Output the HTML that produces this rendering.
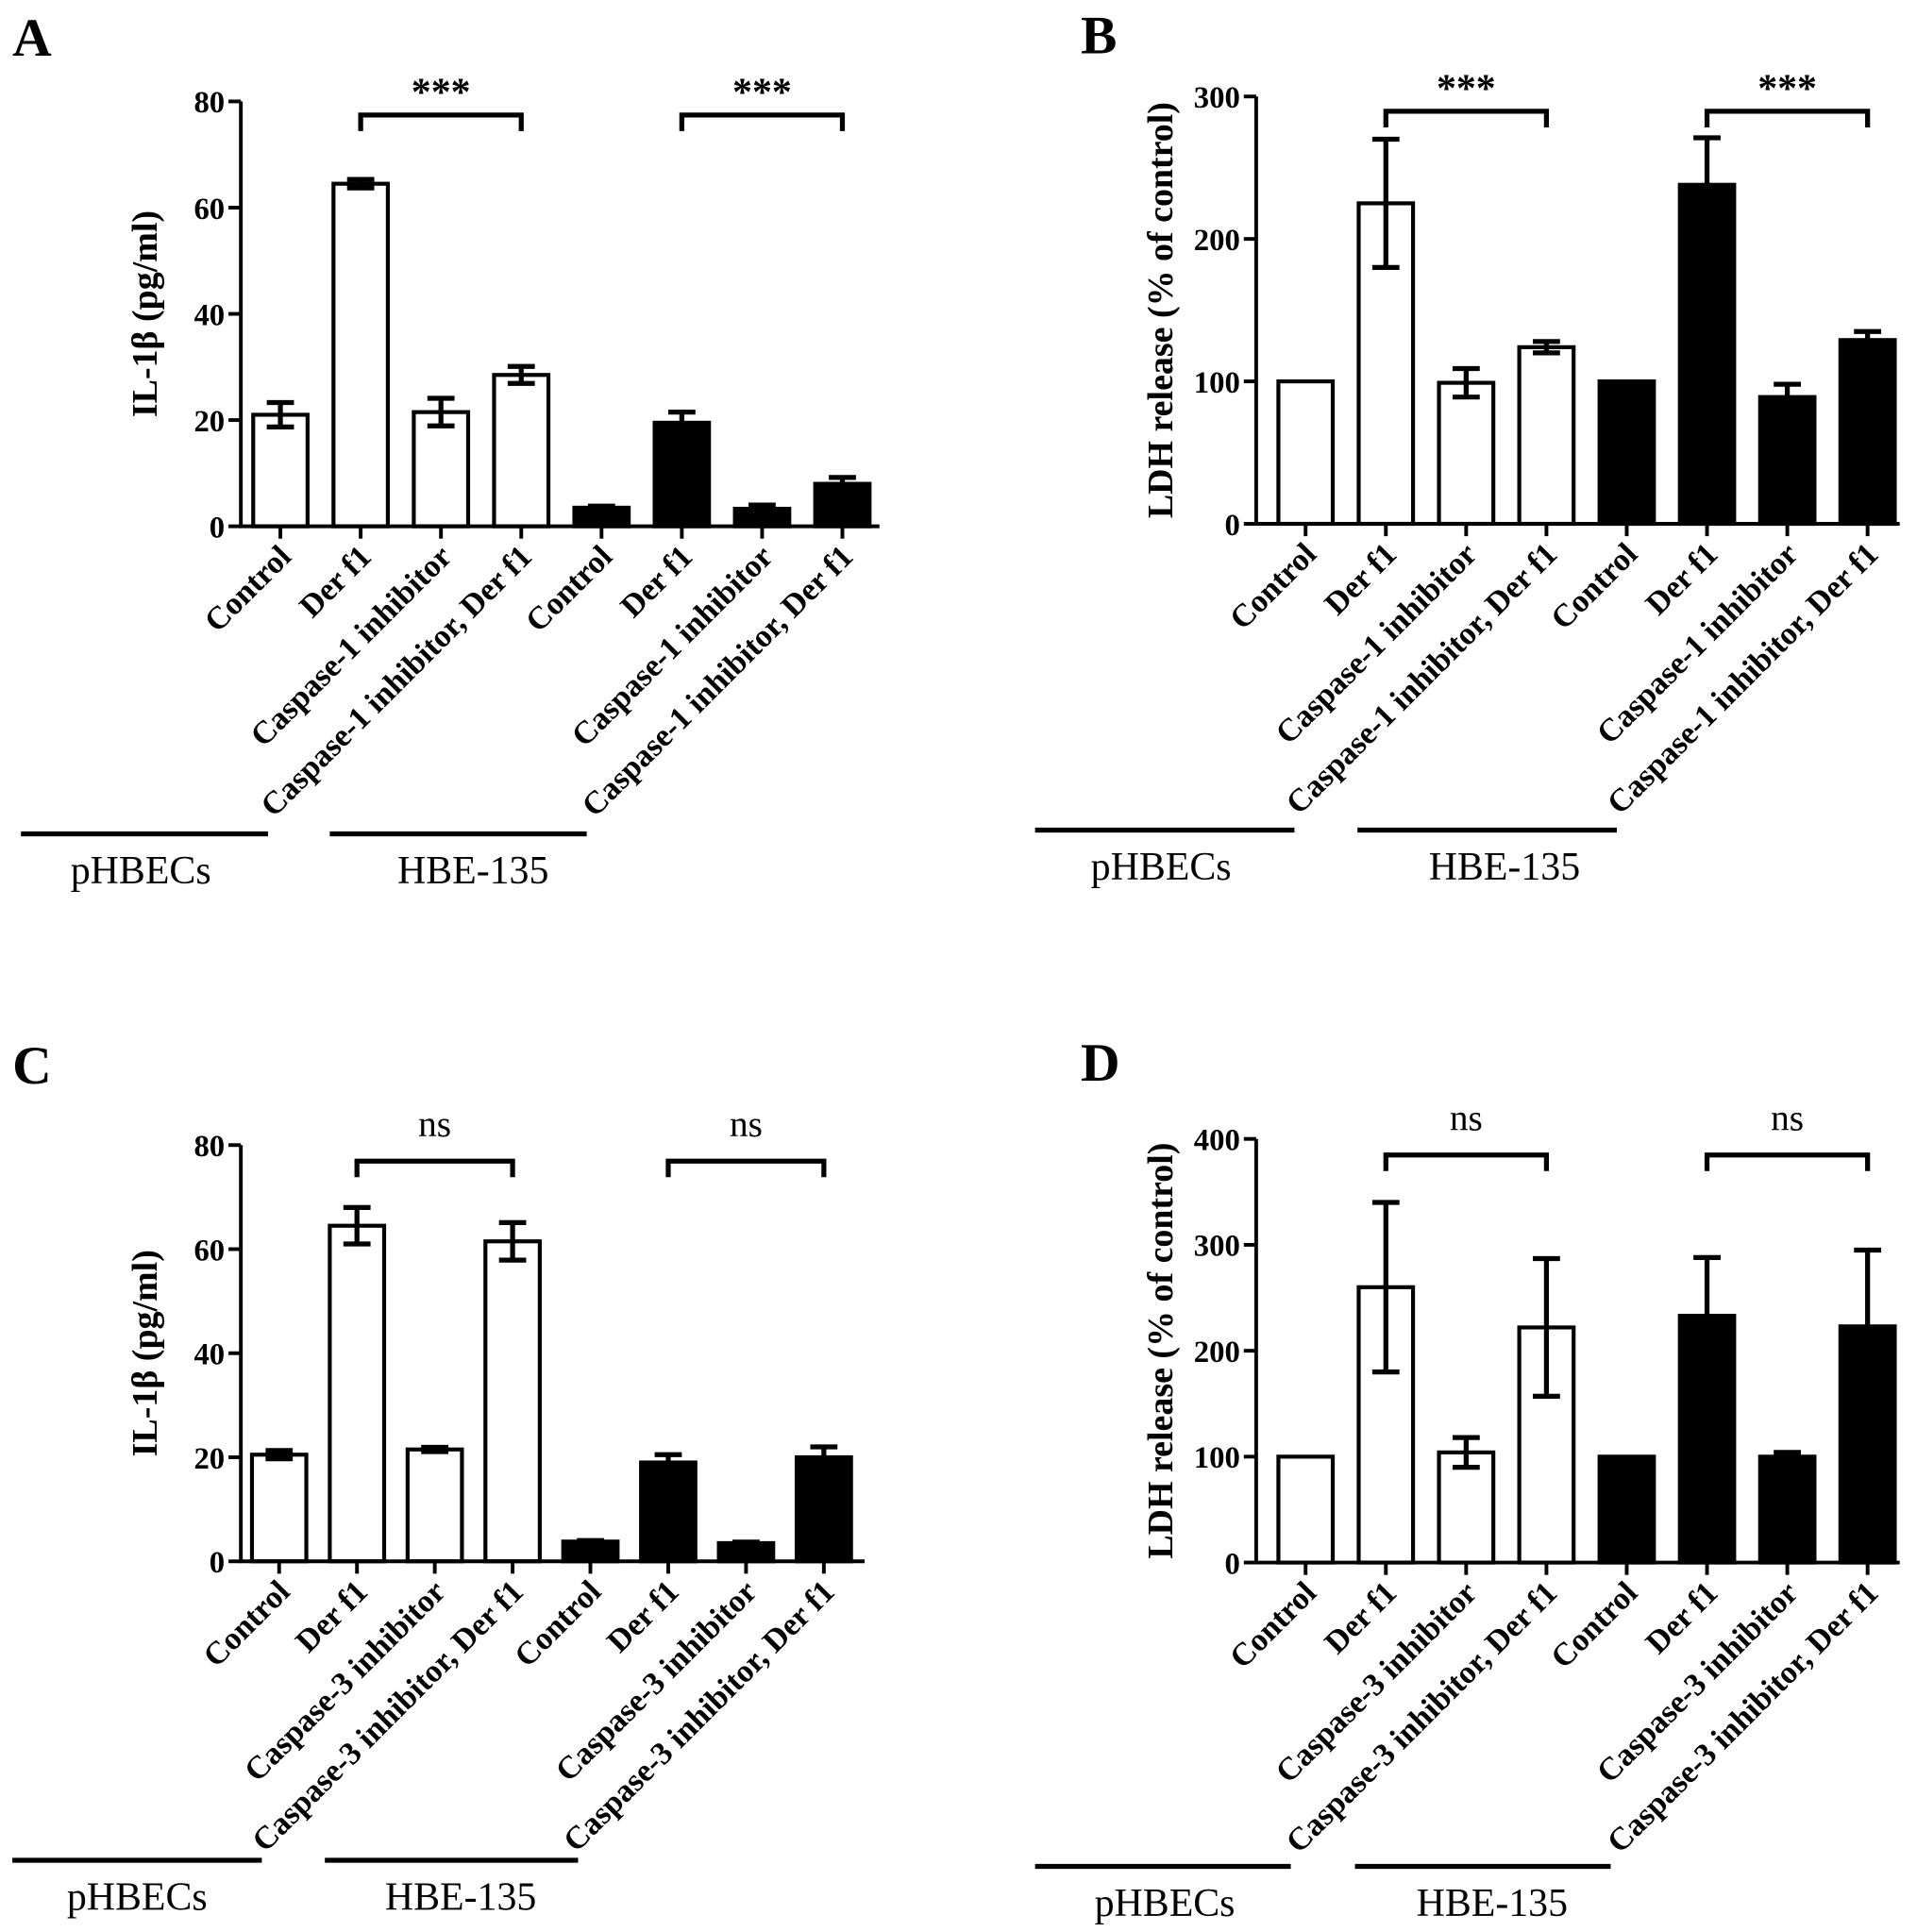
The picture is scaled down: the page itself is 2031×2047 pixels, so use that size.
<!DOCTYPE html>
<html><head><meta charset="utf-8"><style>
html,body{margin:0;padding:0;background:#fff}
svg{display:block}
text{font-family:"Liberation Serif",serif;fill:#000}
</style></head>
<body>
<svg id="fig" width="2031" height="2047" viewBox="0 0 1552 1564" xmlns="http://www.w3.org/2000/svg"></svg>
<script>
const catsCasp1 = ["Control","Der f1","Caspase-1 inhibitor","Caspase-1 inhibitor, Der f1","Control","Der f1","Caspase-1 inhibitor","Caspase-1 inhibitor, Der f1"];
const catsCasp3 = ["Control","Der f1","Caspase-3 inhibitor","Caspase-3 inhibitor, Der f1","Control","Der f1","Caspase-3 inhibitor","Caspase-3 inhibitor, Der f1"];
const valuesA = [21, 64.5, 21.5, 28.5, 3.5, 19.5, 3.3, 8];
const errorsA = [2.3, 0.8, 2.6, 1.6, 0.3, 2, 0.7, 1.2];
const valuesB = [100, 225, 99, 124, 100, 238, 89, 129];
const errorsB = [0, 45, 10, 4, 0, 33, 9, 6];
const valuesC = [20.5, 64.5, 21.5, 61.5, 3.8, 19, 3.5, 20];
const errorsC = [0.8, 3.5, 0.4, 3.6, 0.2, 1.5, 0.2, 2];
const valuesD = [100, 260, 104, 222, 100, 233, 100, 223];
const errorsD = [0, 80, 14, 65, 0, 55, 4, 72];
const ticksIL = [0, 20, 40, 60, 80];
const ticksLDH300 = [0, 100, 200, 300];
const ticksLDH400 = [0, 100, 200, 300, 400];
const groupNames = ["pHBECs", "HBE-135"];

const NS = "http://www.w3.org/2000/svg";
const svg = document.getElementById("fig");
function mk(tag, attrs, parent, txt){
  const e = document.createElementNS(NS, tag);
  for (const k in attrs) e.setAttribute(k, attrs[k]);
  if (txt !== undefined) e.textContent = txt;
  (parent || svg).appendChild(e);
  return e;
}

function panel(cfg){
  const g = mk("g", {});
  
  
  const ymax = cfg.ticks[cfg.ticks.length-1];
  const yS = v => cfg.y0 - (v / ymax) * (cfg.y0 - cfg.yTop);
  const xS = i => cfg.x1 + i * cfg.step;
  const bw = 44;
  const L = mk("text", {x: cfg.lx, y: cfg.ly, "font-size": 44, "font-weight": "bold"}, g, cfg.letter);
  
  
  cfg.values.forEach((v, i) => {
    const cx = xS(i);
    const filled = i >= 4;
    const r = mk("rect", {x: cx - bw/2, y: yS(v), width: bw, height: cfg.y0 - yS(v), fill: filled ? "#000" : "#fff", stroke: "#000", "stroke-width": 3.2}, g);
    
    
    const e = cfg.errors[i];
    if (e > 0) {
      const eb = mk("path", {d: `M${cx},${yS(v+e)}V${yS(v-e)}M${cx-11},${yS(v+e)}H${cx+11}M${cx-11},${yS(v-e)}H${cx+11}`, stroke: "#000", "stroke-width": 4, fill: "none"}, g);
      
      
    }
  });
  const ax = mk("path", {d: `M${cfg.ax},${cfg.yTop}V${cfg.y0}H${cfg.xEnd}`, stroke: "#000", "stroke-width": 3, fill: "none"}, g);
  
  
  cfg.ticks.forEach(t => {
    mk("line", {x1: cfg.ax - 10, x2: cfg.ax, y1: yS(t), y2: yS(t), stroke: "#000", "stroke-width": 3}, g);
    const tl = mk("text", {x: cfg.ax - 13, y: yS(t) + 9, "font-size": 25, "font-weight": "bold", "text-anchor": "end"}, g, String(t));
    
    
  });
  const yt = mk("text", {x: 0, y: 0, "font-size": 29, "font-weight": "bold", "text-anchor": "middle", transform: `translate(${cfg.ax - 68},${(cfg.y0 + cfg.yTop)/2}) rotate(-90)`}, g, cfg.ytitle);
  
  
  cfg.cats.forEach((c, i) => {
    const cx = xS(i);
    mk("line", {x1: cx, x2: cx, y1: cfg.y0, y2: cfg.y0 + 10, stroke: "#000", "stroke-width": 3}, g);
    const t = mk("text", {x: 0, y: 0, "font-size": 26, "font-weight": "bold", "text-anchor": "end", transform: `translate(${cx + 10},${cfg.y0 + 26}) rotate(-45)`}, g, c);
    
    
  });
  cfg.brackets.forEach(([a, b]) => {
    const x1 = xS(a), x2 = xS(b);
    const br = mk("path", {d: `M${x1},${cfg.by + 13}V${cfg.by}H${x2}V${cfg.by + 13}`, stroke: "#000", "stroke-width": 4, fill: "none"}, g);
    
    
    const st = mk("text", {x: (x1 + x2)/2, y: cfg.by - (cfg.sig === "ns" ? 20 : 8), "font-size": cfg.sig === "ns" ? 30 : 32, "font-weight": cfg.sig === "ns" ? "normal" : "bold", "text-anchor": "middle", fill: "#222"}, g, cfg.sig);
    
    
  });
  cfg.groups.forEach(([x1, x2, lx], k) => {
    const gl = mk("line", {x1, x2, y1: cfg.gy, y2: cfg.gy, stroke: "#000", "stroke-width": 4}, g);
    
    
    const gt = mk("text", {x: lx, y: cfg.gy + 40, "font-size": 32, "text-anchor": "middle"}, g, groupNames[k]);
    
    
  });
}

panel({letter:"A", lx:10, ly:45, values:valuesA, errors:errorsA, cats:catsCasp1, ticks:ticksIL, ytitle:"IL-1β (pg/ml)",
  ax:195, y0:426, yTop:82, x1:227, step:65, xEnd:712, by:93, sig:"***", brackets:[[1,3],[5,7]],
  gy:675, groups:[[17,217,114],[267,475,383]]});
panel({letter:"B", lx:875, ly:43, values:valuesB, errors:errorsB, cats:catsCasp1, ticks:ticksLDH300, ytitle:"LDH release (% of control)",
  ax:1017, y0:424, yTop:78, x1:1057, step:65, xEnd:1538, by:90, sig:"***", brackets:[[1,3],[5,7]],
  gy:672, groups:[[838,1048,940],[1099,1309,1218]]});
panel({letter:"C", lx:10, ly:877, values:valuesC, errors:errorsC, cats:catsCasp3, ticks:ticksIL, ytitle:"IL-1β (pg/ml)",
  ax:195, y0:1264, yTop:927, x1:226, step:63, xEnd:700, by:940, sig:"ns", brackets:[[1,3],[5,7]],
  gy:1506, groups:[[10,212,111],[263,468,373]]});
panel({letter:"D", lx:875, ly:875, values:valuesD, errors:errorsD, cats:catsCasp3, ticks:ticksLDH400, ytitle:"LDH release (% of control)",
  ax:1017, y0:1265, yTop:922, x1:1057, step:65, xEnd:1538, by:935, sig:"ns", brackets:[[1,3],[5,7]],
  gy:1511, groups:[[838,1045,943],[1097,1304,1208]]});
</script>
</body></html>
